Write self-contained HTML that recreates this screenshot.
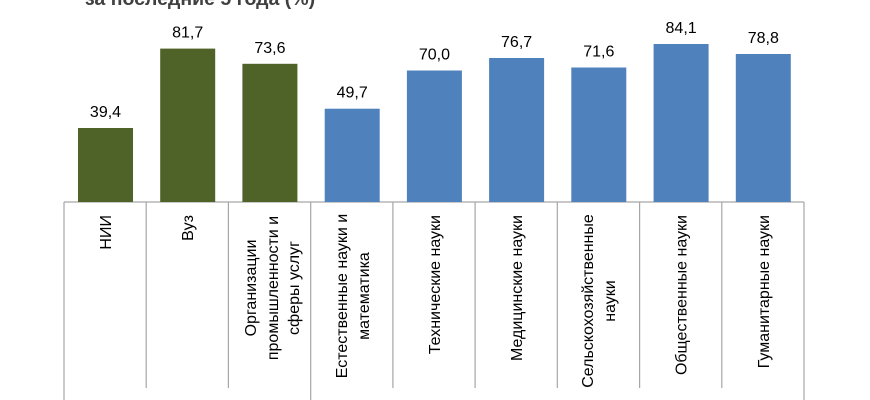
<!DOCTYPE html>
<html><head><meta charset="utf-8"><style>
html,body{margin:0;padding:0;background:#fff;}
svg{display:block;}
text{font-family:"Liberation Sans",Arial,sans-serif;}
</style></head><body>
<svg width="870" height="400" viewBox="0 0 870 400" xmlns="http://www.w3.org/2000/svg">
<text x="85" y="5" font-size="19.5" font-weight="bold" fill="#404040">за последние 5 года (%)</text>
<g stroke="#a6a6a6" stroke-width="1.2" fill="none">
<line x1="64" y1="202" x2="804" y2="202"/>
<line x1="64" y1="202" x2="64" y2="400"/>
<line x1="146.2" y1="202" x2="146.2" y2="388"/>
<line x1="228.4" y1="202" x2="228.4" y2="388"/>
<line x1="310.7" y1="202" x2="310.7" y2="400"/>
<line x1="392.9" y1="202" x2="392.9" y2="388"/>
<line x1="475.1" y1="202" x2="475.1" y2="388"/>
<line x1="557.3" y1="202" x2="557.3" y2="388"/>
<line x1="639.6" y1="202" x2="639.6" y2="388"/>
<line x1="721.8" y1="202" x2="721.8" y2="388"/>
<line x1="804" y1="202" x2="804" y2="400"/>
</g>
<g fill="#4f6228">
<rect x="78" y="128" width="55" height="74"/>
<rect x="160.2" y="48.6" width="55" height="153.4"/>
<rect x="242.4" y="63.8" width="55" height="138.2"/>
</g>
<g fill="#4f81bd">
<rect x="324.7" y="108.7" width="55" height="93.3"/>
<rect x="406.9" y="70.5" width="55" height="131.5"/>
<rect x="489.1" y="58" width="55" height="144"/>
<rect x="571.3" y="67.5" width="55" height="134.5"/>
<rect x="653.6" y="44" width="55" height="158"/>
<rect x="735.8" y="54" width="55" height="148"/>
</g>
<g font-size="16" fill="#000" text-anchor="middle">
<text x="105.5" y="117">39,4</text>
<text x="187.7" y="37.6">81,7</text>
<text x="269.9" y="52.8">73,6</text>
<text x="352.2" y="97.7">49,7</text>
<text x="434.4" y="59.5">70,0</text>
<text x="516.6" y="47">76,7</text>
<text x="598.8" y="56.5">71,6</text>
<text x="681.1" y="33">84,1</text>
<text x="763.3" y="43">78,8</text>
</g>
<g font-size="16" fill="#000" text-anchor="end">
<text transform="translate(111,215) rotate(-90)">НИИ</text>
<text transform="translate(193.2,215) rotate(-90)">Вуз</text>
<text transform="translate(440,215) rotate(-90)">Технические науки</text>
<text transform="translate(522.2,215) rotate(-90)">Медицинские науки</text>
<text transform="translate(686.6,215) rotate(-90)">Общественные науки</text>
<text transform="translate(768.8,215) rotate(-90)">Гуманитарные науки</text>
</g>
<g font-size="16" fill="#000" text-anchor="middle">
<text transform="translate(256,288) rotate(-90)">Организации</text>
<text transform="translate(278,288) rotate(-90)">промышленности и</text>
<text transform="translate(299,288) rotate(-90)">сферы услуг</text>
<text transform="translate(347,296) rotate(-90)">Естественные науки и</text>
<text transform="translate(369,296) rotate(-90)">математика</text>
<text transform="translate(593,301) rotate(-90)">Сельскохозяйственные</text>
<text transform="translate(615,301) rotate(-90)">науки</text>
</g>
</svg>
</body></html>
